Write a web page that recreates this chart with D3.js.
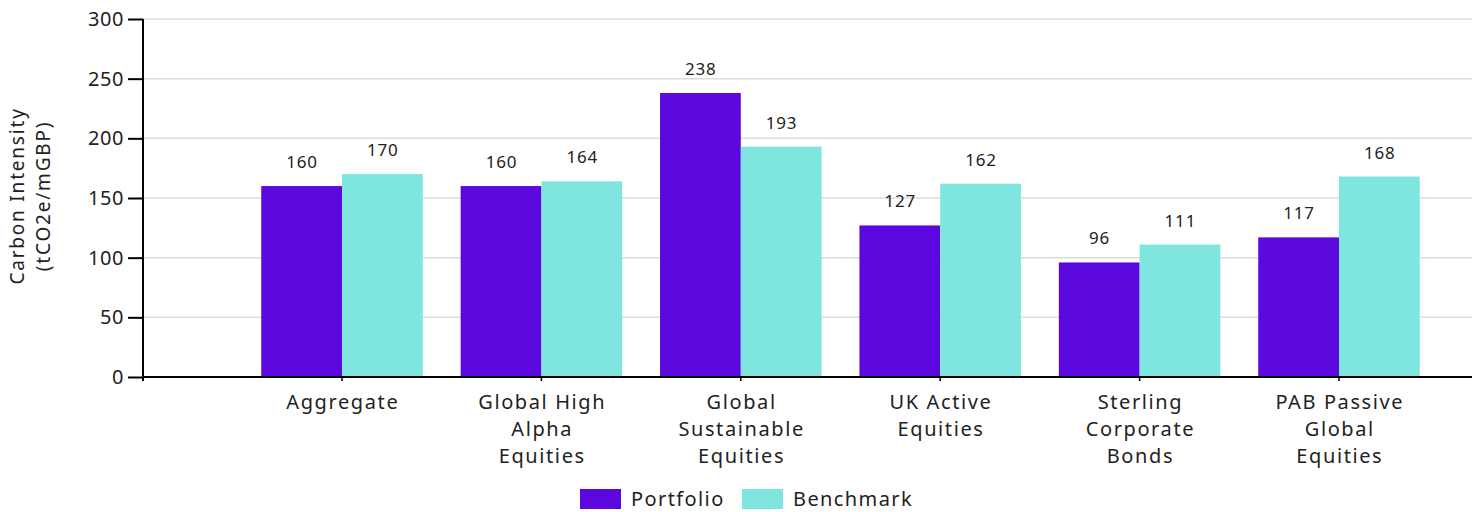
<!DOCTYPE html>
<html><head><meta charset="utf-8">
<script src="https://cdn.jsdelivr.net/npm/d3@7"></script>
<style>
body{margin:0;background:#fff;}
text{font-family:"Noto Sans",sans-serif;fill:#222;}
</style></head>
<body><svg id="c" width="1482" height="512"></svg>
<script>
const categories = ["Aggregate","Global High\nAlpha\nEquities","Global\nSustainable\nEquities","UK Active\nEquities","Sterling\nCorporate\nBonds","PAB Passive\nGlobal\nEquities"];
const seriesNames = ["Portfolio","Benchmark"];
const portfolio = [160,160,238,127,96,117];
const benchmark = [170,164,193,162,111,168];
const yTicks = [0,50,100,150,200,250,300];
const colors = ["#5B08DE","#7FE6DF"];

(function(){
const svg = d3.select("#c");
const pLeft = 143, pRight = 1472, pTop = 19, pBottom = 377;
const y = d3.scaleLinear().domain([0,300]).range([pBottom, pTop]);
const x = d3.scaleBand().domain(categories).range([242.3,1438.7]).paddingInner(0.19).paddingOuter(0.095);
const xs = d3.scaleBand().domain(seriesNames).range([0, x.bandwidth()]);

svg.append("g").selectAll("line").data(yTicks.filter(d=>d>0)).join("line")
  .attr("x1",pLeft).attr("x2",pRight).attr("y1",d=>y(d)).attr("y2",d=>y(d))
  .attr("stroke","#dcdcdc").attr("stroke-width",1.5);

const series = [portfolio, benchmark];
series.forEach((vals, si) => {
  const g = svg.append("g");
  g.selectAll("rect").data(vals).join("rect")
    .attr("x",(d,i)=>x(categories[i]) + xs(seriesNames[si]))
    .attr("width", xs.bandwidth())
    .attr("y", d=>y(d)).attr("height", d=>y(0)-y(d))
    .attr("fill", colors[si]);
  g.selectAll("text").data(vals).join("text")
    .attr("x",(d,i)=>x(categories[i]) + xs(seriesNames[si]) + xs.bandwidth()/2 + 0.4)
    .attr("y", d=>y(d)-18)
    .attr("text-anchor","middle").style("font-size","17px").style("letter-spacing","0.8px")
    .text(d=>d);
});

const yAxis = d3.axisLeft(y).tickValues(yTicks).tickSize(15).tickPadding(4);
const ya = svg.append("g").attr("transform",`translate(${pLeft},0)`).call(yAxis);
ya.select(".domain").attr("stroke","#000").attr("stroke-width",2).attr("d",`M0,${pTop}V${pBottom+4}`);
ya.selectAll(".tick line").attr("stroke","#000").attr("stroke-width",2);
ya.selectAll(".tick text").style("font-size","20px").style("letter-spacing","0.6px")
  .style("font-family","'Noto Sans',sans-serif").attr("fill","#222");

const xAxis = d3.axisBottom(x).tickSize(4).tickFormat("");
const xa = svg.append("g").attr("transform",`translate(0,${pBottom})`).call(xAxis);
xa.selectAll(".tick").attr("transform", d=>`translate(${x(d)+x.bandwidth()/2},0)`);
xa.select(".domain").attr("stroke","#000").attr("stroke-width",2).attr("d",`M${pLeft},0H${pRight}`);
xa.selectAll(".tick line").attr("stroke","#000").attr("stroke-width",1.5);
xa.selectAll(".tick").each(function(d){
  const t = d3.select(this).append("text").attr("text-anchor","middle").attr("fill","#222")
    .style("font-size","20px").style("letter-spacing","1.6px").style("font-family","'Noto Sans',sans-serif");
  d.split("\n").forEach((ln,i)=>{
    t.append("tspan").attr("x",0.8).attr("y",32+i*27).text(ln);
  });
});

const yt = svg.append("text").attr("transform","translate(0,196) rotate(-90)")
  .attr("text-anchor","middle").style("font-size","19px").style("letter-spacing","1.8px");
yt.append("tspan").attr("x",0).attr("y",24).text("Carbon Intensity");
yt.append("tspan").attr("x",0).attr("y",50).text("(tCO2e/mGBP)");

const legX = [580, 742];
seriesNames.forEach((n,i)=>{
  svg.append("rect").attr("x",legX[i]).attr("y",489).attr("width",41).attr("height",20).attr("fill",colors[i]);
  svg.append("text").attr("x",legX[i]+51).attr("y",506).style("font-size","20px").style("letter-spacing","1.4px").text(n);
});
})();
</script></body></html>
